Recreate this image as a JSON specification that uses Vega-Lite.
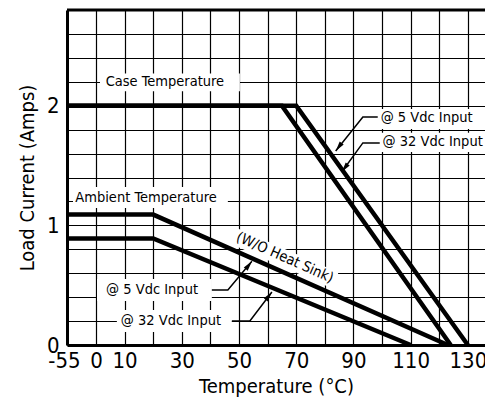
{
  "$schema": "https://vega.github.io/schema/vega-lite/v6.json",
  "width": 418,
  "height": 335,
  "autosize": {"type": "none"},
  "padding": {"left": 67, "top": 10, "right": 0, "bottom": 58},
  "background": "white",
  "config": {
    "view": {"stroke": null},
    "font": "DejaVu Sans Condensed, sans-serif"
  },
  "datasets": {
    "curves": [
      {"series": "Case 5V", "T": -55, "I": 2},
      {"series": "Case 5V", "T": 70, "I": 2},
      {"series": "Case 5V", "T": 130, "I": 0},
      {"series": "Case 32V", "T": -55, "I": 2},
      {"series": "Case 32V", "T": 65, "I": 2},
      {"series": "Case 32V", "T": 124, "I": 0},
      {"series": "Ambient 5V", "T": -55, "I": 1.09},
      {"series": "Ambient 5V", "T": 20, "I": 1.09},
      {"series": "Ambient 5V", "T": 123, "I": 0},
      {"series": "Ambient 32V", "T": -55, "I": 0.89},
      {"series": "Ambient 32V", "T": 20, "I": 0.89},
      {"series": "Ambient 32V", "T": 110, "I": 0}
    ],
    "boxes": [
      {"T": 1.4, "T2": 50.3, "I": 2.12, "I2": 2.27},
      {"T": -43.6, "T2": 46.1, "I": 1.145, "I2": 1.32},
      {"T": 0.35, "T2": 40.5, "I": 0.368, "I2": 0.552},
      {"T": 7.3, "T2": 47.5, "I": 0.109, "I2": 0.293},
      {"T": 98.4, "T2": 136, "I": 1.806, "I2": 1.973},
      {"T": 99.2, "T2": 136, "I": 1.614, "I2": 1.773}
    ],
    "labels": [
      {"label": "Case Temperature", "T": 24.1, "I": 2.2},
      {"label": "Ambient Temperature", "T": 17.5, "I": 1.23},
      {"label": "@ 5 Vdc Input", "T": 19.6, "I": 0.46},
      {"label": "@ 32 Vdc Input", "T": 26.2, "I": 0.2},
      {"label": "@ 5 Vdc Input", "T": 115.6, "I": 1.898},
      {"label": "@ 32 Vdc Input", "T": 117.7, "I": 1.697}
    ],
    "leaders": [
      {"id": "A5", "seq": 1, "T": 40.5, "I": 0.46},
      {"id": "A5", "seq": 2, "T": 46.1, "I": 0.46},
      {"id": "A5", "seq": 3, "T": 54.5, "I": 0.7},
      {"id": "A32", "seq": 1, "T": 47.5, "I": 0.2},
      {"id": "A32", "seq": 2, "T": 53.8, "I": 0.2},
      {"id": "A32", "seq": 3, "T": 61.5, "I": 0.443},
      {"id": "C5", "seq": 1, "T": 98.5, "I": 1.906},
      {"id": "C5", "seq": 2, "T": 93.3, "I": 1.906},
      {"id": "C5", "seq": 3, "T": 83.8, "I": 1.622},
      {"id": "C32", "seq": 1, "T": 99.2, "I": 1.689},
      {"id": "C32", "seq": 2, "T": 93.3, "I": 1.689},
      {"id": "C32", "seq": 3, "T": 85.9, "I": 1.446}
    ],
    "arrowsAmbient": [
      {"T": 54.5, "I": 0.7},
      {"T": 61.5, "I": 0.443}
    ],
    "arrowsCase": [
      {"T": 83.8, "I": 1.622},
      {"T": 85.9, "I": 1.446}
    ],
    "heatsink": [
      {"label": "(W/O Heat Sink)", "T": 66.0, "I": 0.727}
    ],
    "heatsinkBg": [
      {"seq": 1, "T": 47.8, "I": 0.915},
      {"seq": 2, "T": 83.6, "I": 0.54}
    ],
    "border": [
      {"T": -55, "T2": 136, "I": 2.8}
    ]
  },
  "encoding": {
    "x": {
      "field": "T",
      "type": "quantitative",
      "scale": {"domain": [-55, 0, 136], "range": [0, 29, 418], "nice": false, "zero": false},
      "axis": {
        "title": "Temperature (°C)",
        "values": [-55, 0, 10, 20, 30, 40, 50, 60, 70, 80, 90, 100, 110, 120, 130],
        "labelExpr": "datum.value == -55 ? '-55' : (indexof([20, 40, 60, 80, 100, 120], datum.value) >= 0 ? '' : datum.label)",
        "labelOffset": {"condition": {"test": "datum.value == -55", "value": -3}, "value": 0},
        "labelFontSize": 22,
        "labelColor": "black",
        "labelPadding": 5,
        "labelOverlap": false,
        "labelFlush": false,
        "ticks": false,
        "domain": true,
        "domainColor": "black",
        "domainWidth": 3,
        "grid": true,
        "gridColor": "black",
        "gridWidth": 1.2,
        "gridOpacity": 1,
        "titleFontSize": 20,
        "titleFontWeight": "normal",
        "titleColor": "black",
        "titlePadding": 5
      }
    },
    "y": {
      "field": "I",
      "type": "quantitative",
      "scale": {"domain": [0, 2.8], "nice": false, "zero": false},
      "axis": {
        "title": "Load Current (Amps)",
        "values": [0, 0.2, 0.4, 0.6, 0.8, 1, 1.2, 1.4, 1.6, 1.8, 2, 2.2, 2.4, 2.6, 2.8],
        "labelExpr": "abs(datum.value - round(datum.value)) < 0.01 ? '' + round(datum.value) : ''",
        "labelFontSize": 22,
        "labelColor": "black",
        "labelPadding": 8,
        "labelOverlap": false,
        "labelFlush": false,
        "ticks": false,
        "domain": true,
        "domainColor": "black",
        "domainWidth": 3,
        "grid": true,
        "gridColor": "black",
        "gridWidth": 1.2,
        "gridOpacity": 1,
        "titleFontSize": 20,
        "titleFontWeight": "normal",
        "titleColor": "black",
        "titlePadding": 9
      }
    }
  },
  "layer": [
    {
      "data": {"name": "boxes"},
      "mark": {"type": "rect", "fill": "white"},
      "encoding": {"x2": {"field": "T2"}, "y2": {"field": "I2"}}
    },
    {
      "data": {"name": "heatsinkBg"},
      "mark": {"type": "line", "stroke": "white", "strokeWidth": 17, "strokeCap": "butt"},
      "encoding": {"order": {"field": "seq"}}
    },
    {
      "data": {"name": "border"},
      "mark": {"type": "rule", "stroke": "black", "strokeWidth": 3},
      "encoding": {"x2": {"field": "T2"}}
    },
    {
      "data": {"name": "leaders"},
      "mark": {"type": "line", "stroke": "black", "strokeWidth": 1.5},
      "encoding": {"detail": {"field": "id"}, "order": {"field": "seq"}}
    },
    {
      "data": {"name": "curves"},
      "mark": {"type": "line", "stroke": "black", "strokeWidth": 4.5, "strokeJoin": "miter"},
      "encoding": {"detail": {"field": "series"}}
    },
    {
      "data": {"name": "labels"},
      "mark": {"type": "text", "fontSize": 14.5, "color": "black", "align": "center", "baseline": "middle"},
      "encoding": {"text": {"field": "label"}}
    },
    {
      "data": {"name": "heatsink"},
      "mark": {"type": "text", "fontSize": 14.5, "color": "black", "align": "center", "baseline": "middle", "angle": 24},
      "encoding": {"text": {"field": "label"}}
    },
    {
      "data": {"name": "arrowsAmbient"},
      "mark": {"type": "point", "shape": "M0,0L-0.5,2L0.5,2Z", "size": 100, "filled": true, "color": "black", "opacity": 1, "angle": 38},
      "encoding": {}
    },
    {
      "data": {"name": "arrowsCase"},
      "mark": {"type": "point", "shape": "M0,0L-0.5,2L0.5,2Z", "size": 100, "filled": true, "color": "black", "opacity": 1, "angle": 217},
      "encoding": {}
    }
  ]
}
